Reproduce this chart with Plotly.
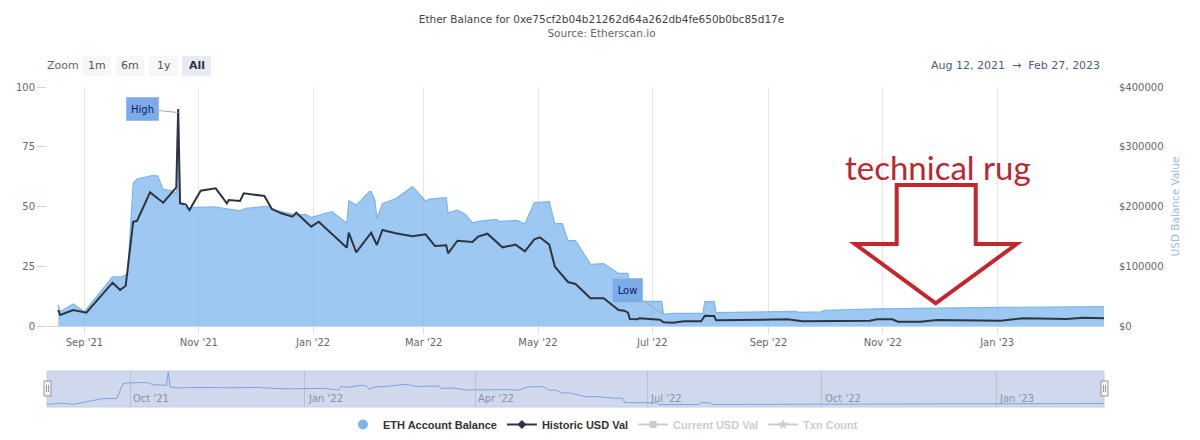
import plotly.graph_objects as go

# the page puts an 8px margin around the figure, so draw in 1192x432 and shift
W, H = 1192, 432
PAGE_MARGIN = 8
TOP = 5
BOTTOM = 30  # strip under the plot area that holds the legend
FONT = "DejaVu Sans"

eth_dates = [
    "2021-08-18", "2021-08-19", "2021-08-26", "2021-09-01", "2021-09-16", "2021-09-21", "2021-09-24",
    "2021-09-27", "2021-09-29", "2021-10-07", "2021-10-10", "2021-10-13", "2021-10-18", "2021-10-20",
    "2021-10-21", "2021-10-22", "2021-10-27", "2021-10-29", "2021-11-09", "2021-11-16", "2021-11-23",
    "2021-11-26", "2021-12-08", "2021-12-10", "2021-12-23", "2021-12-28", "2021-12-31", "2022-01-11",
    "2022-01-19", "2022-01-20", "2022-01-24", "2022-01-31", "2022-02-01", "2022-02-03", "2022-02-04",
    "2022-02-07", "2022-02-14", "2022-02-23", "2022-03-02", "2022-03-04", "2022-03-13", "2022-03-14",
    "2022-03-19", "2022-03-23", "2022-03-27", "2022-03-31", "2022-04-09", "2022-04-10", "2022-04-20",
    "2022-04-24", "2022-04-29", "2022-05-07", "2022-05-10", "2022-05-14", "2022-05-17", "2022-05-21",
    "2022-05-29", "2022-06-05", "2022-06-13", "2022-06-18", "2022-06-19", "2022-07-06", "2022-07-07",
    "2022-07-12", "2022-07-28", "2022-07-29", "2022-08-03", "2022-08-04", "2022-09-16", "2022-09-17",
    "2022-09-29", "2022-10-01", "2022-10-30", "2023-01-03", "2023-02-27",
]
eth_balance = [
    8.8, 6.0, 9.2, 6.0, 20.6, 20.6, 21.8,
    59.7, 61.5, 62.9, 62.8, 57.2, 56.6, 55.5,
    90.8, 51.3, 48.5, 49.5, 49.9, 49.2, 48.2,
    49.2, 50.2, 48.8, 46.4, 46.7, 45.5, 47.8,
    43.0, 52.4, 50.6, 56.2, 56.2, 52.4, 45.0,
    51.3, 53.2, 58.3, 52.3, 53.1, 53.7, 47.4,
    48.5, 46.9, 43.2, 43.9, 44.6, 43.8, 44.1,
    42.8, 51.6, 52.0, 42.8, 42.8, 35.7, 35.7,
    25.8, 26.1, 22.0, 22.0, 10.3, 10.3, 4.9,
    5.3, 5.4, 10.2, 10.2, 5.6, 6.1, 5.7,
    5.9, 6.6, 7.2, 7.8, 8.1,
]

usd_dates = [
    "2021-08-18", "2021-08-19", "2021-08-26", "2021-09-02", "2021-09-16", "2021-09-20", "2021-09-23",
    "2021-09-27", "2021-09-29", "2021-10-06", "2021-10-13", "2021-10-20", "2021-10-21", "2021-10-22",
    "2021-10-25", "2021-10-27", "2021-11-02", "2021-11-10", "2021-11-16", "2021-11-17", "2021-11-23",
    "2021-11-25", "2021-12-06", "2021-12-10", "2021-12-15", "2021-12-21", "2021-12-23", "2021-12-31",
    "2022-01-04", "2022-01-19", "2022-01-20", "2022-01-24", "2022-02-01", "2022-02-04", "2022-02-07",
    "2022-02-14", "2022-02-23", "2022-03-02", "2022-03-07", "2022-03-13", "2022-03-14", "2022-03-19",
    "2022-03-27", "2022-03-30", "2022-04-04", "2022-04-08", "2022-04-12", "2022-04-19", "2022-04-24",
    "2022-04-29", "2022-05-02", "2022-05-07", "2022-05-10", "2022-05-17", "2022-05-21", "2022-05-29",
    "2022-06-05", "2022-06-13", "2022-06-16", "2022-06-18", "2022-06-19", "2022-06-23", "2022-06-24",
    "2022-07-05", "2022-07-07", "2022-07-12", "2022-07-18", "2022-07-27", "2022-07-29", "2022-08-03",
    "2022-08-04", "2022-09-11", "2022-09-19", "2022-10-25", "2022-10-29", "2022-11-06", "2022-11-09",
    "2022-11-21", "2022-11-30", "2023-01-03", "2023-01-15", "2023-02-07", "2023-02-16", "2023-02-27",
]
usd_values = [
    26800, 18400, 26800, 22300, 72500, 60300, 67500,
    174600, 175700, 223700, 206400, 232100, 363200, 205300,
    203700, 194100, 226500, 230400, 205300, 210900, 209200,
    222100, 217600, 195800, 188600, 182900, 189600, 166200,
    174600, 131000, 156100, 123300, 156100, 135600, 160700,
    155100, 150100, 153500, 133900, 135000, 121700, 142800,
    140600, 149500, 154500, 142300, 131700, 136100, 125000,
    145100, 148400, 136100, 99200, 73600, 70300, 46400,
    46400, 26800, 25600, 22300, 11700, 11200, 12900,
    10500, 6200, 5500, 7900, 7900, 17200, 16700,
    9500, 11200, 7900, 8900, 11200, 11200, 7200,
    7200, 10000, 8900, 12900, 11700, 13900, 12900,
]

x_ticks = ["2021-09-01", "2021-11-01", "2022-01-01", "2022-03-01", "2022-05-01",
           "2022-07-01", "2022-09-01", "2022-11-01", "2023-01-01"]
x_labels = ["Sep '21", "Nov '21", "Jan '22", "Mar '22", "May '22",
            "Jul '22", "Sep '22", "Nov '22", "Jan '23"]
nav_ticks = ["2021-10-01", "2022-01-01", "2022-04-01", "2022-07-01", "2022-10-01", "2023-01-01"]
nav_labels = ["Oct '21", "Jan '22", "Apr '22", "Jul '22", "Oct '22", "Jan '23"]
left_ticks = [0, 25, 50, 75, 100]
right_ticks = [0, 100000, 200000, 300000, 400000]
right_labels = ["$0", "$100000", "$200000", "$300000", "$400000"]
zoom_buttons = ["1m", "6m", "1y", "All"]


def px(x):
    return (x - PAGE_MARGIN) / W


def py(y):
    return 1 - (y - PAGE_MARGIN - TOP) / (H - TOP - BOTTOM)


fig = go.Figure()

fig.add_trace(go.Scatter(
    x=eth_dates, y=eth_balance, mode="lines", fill="tozeroy",
    line=dict(color="#7cb5ec", width=1.2), fillcolor="rgba(124,181,236,0.75)",
    name="ETH Account Balance", showlegend=False, xaxis="x", yaxis="y",
))
fig.add_trace(go.Scatter(
    x=usd_dates, y=usd_values, mode="lines",
    line=dict(color="#2f3540", width=2), name="Historic USD Val",
    showlegend=False, xaxis="x", yaxis="y2",
))
fig.add_trace(go.Scatter(
    x=eth_dates, y=eth_balance, mode="lines",
    line=dict(color="#7fa3de", width=1), showlegend=False, xaxis="x2", yaxis="y3",
))

# legend only entries, icons differ from how the series are drawn
fig.add_trace(go.Scatter(x=[None], y=[None], mode="markers", name="ETH Account Balance",
                         marker=dict(symbol="circle", size=10, color="#7cb5ec")))
fig.add_trace(go.Scatter(x=[None], y=[None], mode="lines+markers", name="Historic USD Val",
                         line=dict(color="#2f3540", width=2),
                         marker=dict(symbol="diamond", size=7, color="#2f3540")))
fig.add_trace(go.Scatter(x=[None], y=[None], mode="lines+markers", visible="legendonly",
                         name="<span style='color:#999999'>Current USD Val</span>",
                         line=dict(color="#999999", width=2), marker=dict(symbol="square", size=7, color="#999999")))
fig.add_trace(go.Scatter(x=[None], y=[None], mode="lines+markers", visible="legendonly",
                         name="<span style='color:#999999'>Txn Count</span>",
                         line=dict(color="#999999", width=2), marker=dict(symbol="star", size=8, color="#999999")))

shapes = [
    dict(type="rect", xref="paper", yref="paper", layer="below",
         x0=px(47), x1=px(1104), y0=py(407), y1=py(371),
         fillcolor="#cfd8ec", line=dict(color="#c6cfdf", width=1)),
]
# selector buttons
for x0, x1, label in zip([82, 116, 149, 182], [111, 144, 178, 211], zoom_buttons):
    shapes.append(dict(type="rect", xref="paper", yref="paper", layer="below",
                       x0=px(x0), x1=px(x1), y0=py(76), y1=py(56),
                       fillcolor="#e6ebf5" if label == "All" else "#f7f7f7", line=dict(width=0)))
# navigator handles
for cx in [47.5, 1104.5]:
    shapes.append(dict(type="rect", xref="paper", yref="paper",
                       x0=px(cx - 3.5), x1=px(cx + 3.5), y0=py(396), y1=py(381),
                       fillcolor="#f2f2f2", line=dict(color="#999999", width=1)))
    for dx in [-1, 1]:
        shapes.append(dict(type="line", xref="paper", yref="paper",
                           x0=px(cx + dx), x1=px(cx + dx), y0=py(392), y1=py(385),
                           line=dict(color="#999999", width=1)))
# hand drawn arrow
arrow_pts = [(896.7, 185), (975.7, 185), (975.7, 244), (1016.7, 244), (935.7, 303.3), (855, 244), (896.7, 244)]
path = "M " + " L ".join(f"{px(a):.5f} {py(b):.5f}" for a, b in arrow_pts) + " Z"
shapes.append(dict(type="path", xref="paper", yref="paper", path=path, line=dict(color="#c4262e", width=4)))

annotations = [
    dict(text="Zoom", xref="paper", yref="paper", x=px(63), y=py(66), xanchor="center", yanchor="middle",
         showarrow=False, font=dict(family=FONT, size=11, color="#666666")),
    dict(text="Aug 12, 2021&nbsp;&nbsp;→&nbsp;&nbsp;Feb 27, 2023", xref="paper", yref="paper",
         x=px(1102), y=py(65), xanchor="right", yanchor="middle", showarrow=False,
         font=dict(family=FONT, size=11, color="#47617a")),
    dict(text="technical rug", xref="paper", yref="paper", x=px(938), y=py(167), xanchor="center", yanchor="middle",
         showarrow=False, font=dict(family="Lato", size=33, color="#b9282f")),
    dict(text="High", x="2021-10-21", y=89.3, xref="x", yref="y", ax=-35.5, ay=-3.7,
         showarrow=True, arrowhead=0, arrowcolor="#a8a8a8", arrowwidth=1,
         bgcolor="#7cabe8", bordercolor="#9bbcec", borderwidth=1, width=29, height=20,
         font=dict(family=FONT, size=10, color="#10206a")),
    dict(text="Low", x="2022-07-07", y=4.9, xref="x", yref="y", ax=-36.5, ay=-24,
         showarrow=True, arrowhead=0, arrowcolor="#a8a8a8", arrowwidth=1,
         bgcolor="#7cabe8", bordercolor="#9bbcec", borderwidth=1, width=27, height=21,
         font=dict(family=FONT, size=10, color="#10206a")),
]
for cx, label in zip([96.5, 130, 163.5, 196.5], zoom_buttons):
    annotations.append(dict(text=f"<b>{label}</b>" if label == "All" else label, xref="paper", yref="paper",
                            x=px(cx), y=py(66), xanchor="center", yanchor="middle", showarrow=False,
                            font=dict(family=FONT, size=11, color="#333333" if label == "All" else "#555555")))
for tick, label in zip(nav_ticks, nav_labels):
    annotations.append(dict(text=label, x=tick, y=0, xref="x2", yref="y3", xanchor="left", yanchor="bottom",
                            xshift=1, yshift=1, showarrow=False,
                            font=dict(family=FONT, size=10, color="#8a94a6")))

fig.update_layout(
    width=W, height=H, autosize=False,
    margin=dict(l=0, r=0, t=TOP, b=BOTTOM),
    paper_bgcolor="white", plot_bgcolor="white",
    title=dict(
        text="Ether Balance for 0xe75cf2b04b21262d64a262db4fe650b0bc85d17e<br>"
             "<span style='color:#666666'>Source: Etherscan.io</span>",
        x=px(601.5), xanchor="center", y=1 - 15 / H, yanchor="top",
        font=dict(family=FONT, size=10.5, color="#444444"),
    ),
    xaxis=dict(
        domain=[px(47), px(1104)], range=["2021-08-12", "2023-02-27"], anchor="y",
        tickvals=x_ticks, ticktext=x_labels, tickfont=dict(family=FONT, size=10, color="#666666"),
        showgrid=True, gridcolor="#e6e6e6", gridwidth=1,
        ticks="outside", ticklen=7, tickcolor="#d8dde8",
        showline=True, linecolor="#ccd6eb", linewidth=1, zeroline=False,
    ),
    yaxis=dict(
        domain=[py(326), py(87)], range=[0, 100], anchor="x",
        tickvals=left_ticks, tickfont=dict(family=FONT, size=10, color="#666666"),
        ticks="outside", ticklen=9, tickcolor="#ccd6eb", showgrid=False, zeroline=False,
    ),
    yaxis2=dict(
        domain=[py(326), py(87)], range=[0, 400000], overlaying="y", side="right", anchor="x",
        tickvals=right_ticks, ticktext=right_labels, tickfont=dict(family=FONT, size=10, color="#666666"),
        ticks="outside", ticklen=12, tickcolor="rgba(0,0,0,0)", showgrid=False, zeroline=False,
        title=dict(text="USD Balance Value", font=dict(family=FONT, size=10.5, color="#9dbdd6"), standoff=9),
    ),
    xaxis2=dict(
        domain=[px(47), px(1104)], range=["2021-08-18", "2023-02-27"], anchor="y3",
        tickvals=nav_ticks, showticklabels=False, showgrid=True, gridcolor="#b9c2d4", gridwidth=1,
        ticks="", zeroline=False,
    ),
    yaxis3=dict(
        domain=[py(407), py(371)], range=[-1, 93], anchor="x2",
        showticklabels=False, showgrid=False, ticks="", zeroline=False,
    ),
    showlegend=True,
    legend=dict(
        orientation="h", x=px(603), xanchor="center", y=0, yanchor="top",
        font=dict(family="Liberation Sans", size=11, color="#333333", weight="bold"),
        itemclick=False, itemdoubleclick=False, bgcolor="rgba(0,0,0,0)",
        itemwidth=30,
    ),
    shapes=shapes,
    annotations=annotations,
)

fig.write_html("out.html")
